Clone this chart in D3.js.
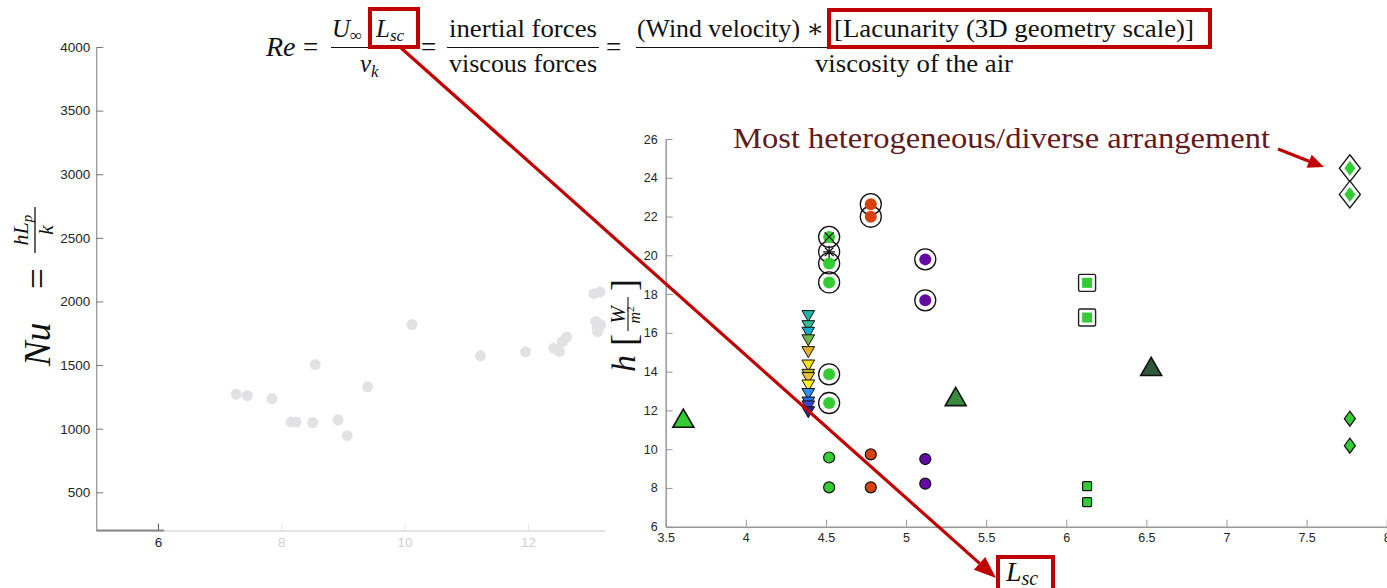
<!DOCTYPE html>
<meta charset="utf-8">
<style>
body { margin: 0; background: #fff; }
svg text { font-family: "Liberation Sans", Arial, sans-serif; }
.serif text, text.serif { font-family: "Liberation Serif", "DejaVu Serif", serif; fill: #111; }
</style>
<svg width="1387" height="588"></svg>
<script src="https://cdn.jsdelivr.net/npm/d3@7"></script>
<script>

// ---- left panel (faded): Nu vs Lsc
var nuLsc = [7.27, 7.45, 7.85, 8.16, 8.24, 8.51, 8.55, 8.92, 9.07, 9.40, 10.12, 11.23, 11.96,
             12.42, 12.51, 12.56, 12.63, 13.07, 13.17, 13.10, 13.12, 13.13, 13.18];
var nuVal = [1271, 1260, 1237, 1053, 1053, 1048, 1504, 1069, 945, 1329, 1819, 1573, 1604,
             1633, 1607, 1685, 1720, 2061, 2074, 1843, 1791, 1764, 1817];
var nuTicksX = [6, 8, 10, 12];
var nuTicksY = [500, 1000, 1500, 2000, 2500, 3000, 3500, 4000];

// ---- right panel: h vs Lsc
var hTicksX = [3.5, 4, 4.5, 5, 5.5, 6, 6.5, 7, 7.5, 8];
var hTicksY = [6, 8, 10, 12, 14, 16, 18, 20, 22, 24, 26];

// down triangles (one column)
var triLsc = 4.39;
var triH = [16.96, 16.44, 16.10, 15.71, 15.10, 14.41, 13.93, 13.76, 13.38, 12.94, 12.50, 12.30, 12.00];
var triColors = ["#22b3a6", "#2fbf96", "#15a8c8", "#6db84a", "#e6b22a", "#f6df1c", "#bdb421",
                 "#f0be3a", "#ffee12", "#2e8ff0", "#2a6de0", "#3a46d6", "#2a2a96"];

// circles
var circLsc = [4.52, 4.78, 5.12];
var circColors = ["#33cc33", "#d8420f", "#660aa6"];
var circRinged = [[20.95, 19.58, 18.60, 13.86, 12.38], [22.64, 21.99], [19.79, 17.68]];
var circPlain = [[9.57, 8.03], [9.73, 8.03], [9.49, 8.22]];
var starH = [20.18];
var crossH = [20.95];

// up triangles
var upLsc = [3.61, 5.31, 6.53];
var upH = [11.49, 12.61, 14.16];
var upColors = ["#33cc33", "#3a8a3e", "#2f5a38"];

// squares
var sqLsc = 6.13;
var sqRinged = [18.58, 16.79];
var sqPlain = [8.09, 7.27];

// diamonds
var dmLsc = 7.77;
var dmRinged = [24.49, 23.14];
var dmPlain = [11.57, 10.18];

var svg = d3.select("svg");
var red = "#c00000";

svg.append("defs").append("clipPath").attr("id", "leftclip")
  .append("rect").attr("x", 0).attr("y", 0).attr("width", 606).attr("height", 588);

// ================= left panel
var xL = d3.scaleLinear().domain([5, 13.25]).range([96.3, 605]);
var yL = d3.scaleLinear().domain([200, 4000]).range([530.5, 47]);

var left = svg.append("g").attr("clip-path", "url(#leftclip)");

var gLy = left.append("g").attr("transform", "translate(96.3,0)")
  .call(d3.axisLeft(yL).tickValues(nuTicksY).tickFormat(d3.format("d"))
    .tickSizeInner(-7).tickSizeOuter(0).tickPadding(6));
gLy.select(".domain").attr("stroke", "#777");
gLy.selectAll(".tick line").attr("stroke", "#777");
gLy.selectAll(".tick text").style("font-size", "13.5px").style("fill", "#262626");

var gLx = left.append("g").attr("transform", "translate(0,530.5)")
  .call(d3.axisBottom(xL).tickValues(nuTicksX).tickSizeInner(-7).tickSizeOuter(0).tickPadding(7));
gLx.select(".domain").attr("stroke", "#e3e3e3").attr("stroke-width", 2);
gLx.selectAll(".tick line").attr("stroke", function(d) { return d == 6 ? "#555" : "#e3e3e3"; });
gLx.selectAll(".tick text").style("font-size", "13.5px")
  .style("fill", function(d) { return d == 6 ? "#262626" : "#d0d0d0"; });
left.append("line").attr("x1", xL(5)).attr("x2", xL(6.1)).attr("y1", 530.5).attr("y2", 530.5)
  .attr("stroke", "#888").attr("stroke-width", 2);

left.append("g").selectAll("circle").data(nuLsc).enter().append("circle")
  .attr("cx", function(d) { return xL(d); })
  .attr("cy", function(d, i) { return yL(nuVal[i]); })
  .attr("r", 5.5).attr("fill", "#e2e2e5");

// Nu label (rotated)
var nu = svg.append("g").attr("transform", "translate(38,300) rotate(-90)").attr("class", "serif");
nu.append("text").attr("x", -66).attr("y", 12).style("font-size", "37px").style("font-style", "italic").text("Nu");
nu.append("text").attr("x", 11).attr("y", 12).style("font-size", "37px").text("=");
var numer = nu.append("text").attr("x", 70).attr("y", -10).attr("text-anchor", "middle").style("font-size", "22px").style("font-style", "italic");
numer.append("tspan").text("hL");
numer.append("tspan").attr("dy", 4).style("font-size", "15px").text("p");
nu.append("line").attr("x1", 47).attr("x2", 93).attr("y1", -3).attr("y2", -3).attr("stroke", "#111").attr("stroke-width", 1.3);
nu.append("text").attr("x", 70).attr("y", 15).attr("text-anchor", "middle").style("font-size", "22px").style("font-style", "italic").text("k");

// ================= right panel
var x = d3.scaleLinear().domain([3.5, 8]).range([665.7, 1386.7]);
var y = d3.scaleLinear().domain([6, 26]).range([526.7, 139]);

var gy = svg.append("g").attr("transform", "translate(665.7,0)")
  .call(d3.axisLeft(y).tickValues(hTicksY).tickSizeInner(-7).tickSizeOuter(0).tickPadding(8));
var gx = svg.append("g").attr("transform", "translate(0,526.7)")
  .call(d3.axisBottom(x).tickValues(hTicksX).tickFormat(d3.format("")).tickSizeInner(-7).tickSizeOuter(0).tickPadding(6));
gy.select(".domain").attr("stroke", "#999").attr("stroke-width", 1.5);
gx.select(".domain").attr("stroke", "#999").attr("stroke-width", 1.5);
gx.selectAll(".tick line").attr("stroke", "#999");
gy.selectAll(".tick line").attr("stroke", "#999");
gx.selectAll(".tick text").style("font-size", "12.5px").style("fill", "#262626");
gy.selectAll(".tick text").style("font-size", "12.5px").style("fill", "#262626");

// h label (rotated)
var hl = svg.append("g").attr("transform", "translate(625,322) rotate(-90)").attr("class", "serif");
hl.append("text").attr("x", -50).attr("y", 10).style("font-size", "34px").style("font-style", "italic").text("h");
hl.append("text").attr("x", -24).attr("y", 11).style("font-size", "36px").text("[");
hl.append("text").attr("x", 31).attr("y", 11).style("font-size", "36px").text("]");
hl.append("text").attr("x", 7).attr("y", 0).attr("text-anchor", "middle").style("font-size", "21px").style("font-style", "italic").text("W");
hl.append("line").attr("x1", -9).attr("x2", 25).attr("y1", 3).attr("y2", 3).attr("stroke", "#111").attr("stroke-width", 1.1);
var m2 = hl.append("text").attr("x", 7).attr("y", 15).attr("text-anchor", "middle").style("font-size", "16px").style("font-style", "italic");
m2.append("tspan").text("m");
m2.append("tspan").attr("dy", -6).style("font-size", "11px").style("font-style", "normal").text("2");

var marks = svg.append("g");

// down triangles
marks.selectAll("path.tri").data(triH).enter().append("path").attr("class", "tri")
  .attr("d", d3.symbol().type(d3.symbolTriangle).size(70))
  .attr("transform", function(d) { return "translate(" + x(triLsc) + "," + y(d) + ") rotate(180)"; })
  .attr("fill", function(d, i) { return triColors[i]; })
  .attr("stroke", "#111").attr("stroke-width", 1);

// ringed circles
circLsc.forEach(function(lsc, k) {
  var g = marks.append("g");
  var rings = circRinged[k].slice();
  if (k === 0) rings = rings.concat(starH);
  g.selectAll("circle.ring").data(rings).enter().append("circle").attr("class", "ring")
    .attr("cx", x(lsc)).attr("cy", function(d) { return y(d); }).attr("r", 10.5)
    .attr("fill", "none").attr("stroke", "#111").attr("stroke-width", 1.3);
  g.selectAll("circle.fillc").data(circRinged[k]).enter().append("circle").attr("class", "fillc")
    .attr("cx", x(lsc)).attr("cy", function(d) { return y(d); }).attr("r", 6)
    .attr("fill", circColors[k]);
  g.selectAll("circle.plain").data(circPlain[k]).enter().append("circle").attr("class", "plain")
    .attr("cx", x(lsc)).attr("cy", function(d) { return y(d); }).attr("r", 5.5)
    .attr("fill", circColors[k]).attr("stroke", "#111").attr("stroke-width", 1.2);
});

// asterisk and cross on the green column
marks.selectAll("path.star").data(starH).enter().append("path").attr("class", "star")
  .attr("d", "M-6,0H6M0,-6V6M-4.3,-4.3L4.3,4.3M-4.3,4.3L4.3,-4.3")
  .attr("transform", function(d) { return "translate(" + x(circLsc[0]) + "," + y(d) + ")"; })
  .attr("stroke", "#111").attr("stroke-width", 1.3);
marks.selectAll("path.cross").data(crossH).enter().append("path").attr("class", "cross")
  .attr("d", "M-4.5,-4.5L4.5,4.5M-4.5,4.5L4.5,-4.5")
  .attr("transform", function(d) { return "translate(" + x(circLsc[0]) + "," + y(d) + ")"; })
  .attr("stroke", "#111").attr("stroke-width", 1.3);

// up triangles
marks.selectAll("path.up").data(upLsc).enter().append("path").attr("class", "up")
  .attr("d", d3.symbol().type(d3.symbolTriangle).size(190))
  .attr("transform", function(d, i) { return "translate(" + x(d) + "," + (y(upH[i]) + 1) + ")"; })
  .attr("fill", function(d, i) { return upColors[i]; })
  .attr("stroke", "#111").attr("stroke-width", 1.6);

// squares
marks.selectAll("rect.sqring").data(sqRinged).enter().append("rect").attr("class", "sqring")
  .attr("x", x(sqLsc) - 8.5).attr("y", function(d) { return y(d) - 8.5; })
  .attr("width", 17).attr("height", 17).attr("rx", 1.5)
  .attr("fill", "#fff").attr("stroke", "#222").attr("stroke-width", 1.4);
marks.selectAll("rect.sqin").data(sqRinged).enter().append("rect").attr("class", "sqin")
  .attr("x", x(sqLsc) - 5).attr("y", function(d) { return y(d) - 5; })
  .attr("width", 10).attr("height", 10).attr("fill", "#33cc33");
marks.selectAll("rect.sqp").data(sqPlain).enter().append("rect").attr("class", "sqp")
  .attr("x", x(sqLsc) - 4.5).attr("y", function(d) { return y(d) - 4.5; })
  .attr("width", 9).attr("height", 9).attr("rx", 1)
  .attr("fill", "#33cc33").attr("stroke", "#111").attr("stroke-width", 1.2);

// diamonds
function diamond(w, h) {
  var p = d3.path();
  p.moveTo(0, -h / 2); p.lineTo(w / 2, 0); p.lineTo(0, h / 2); p.lineTo(-w / 2, 0); p.closePath();
  return p.toString();
}
marks.selectAll("path.dmring").data(dmRinged).enter().append("path").attr("class", "dmring")
  .attr("d", diamond(21, 27))
  .attr("transform", function(d) { return "translate(" + x(dmLsc) + "," + y(d) + ")"; })
  .attr("fill", "#fff").attr("stroke", "#111").attr("stroke-width", 1.3);
marks.selectAll("path.dmin").data(dmRinged).enter().append("path").attr("class", "dmin")
  .attr("d", diamond(11, 15))
  .attr("transform", function(d) { return "translate(" + x(dmLsc) + "," + y(d) + ")"; })
  .attr("fill", "#33cc33");
marks.selectAll("path.dmp").data(dmPlain).enter().append("path").attr("class", "dmp")
  .attr("d", diamond(11, 15))
  .attr("transform", function(d) { return "translate(" + x(dmLsc) + "," + y(d) + ")"; })
  .attr("fill", "#33cc33").attr("stroke", "#111").attr("stroke-width", 1.2);

// ================= formula on top
var f = svg.append("g").attr("class", "serif").style("font-size", "25px");
f.append("text").attr("x", 266).attr("y", 56).style("font-style", "italic").style("font-size", "28px").text("Re");
f.append("text").attr("x", 303).attr("y", 56).style("font-size", "27px").text("=");

var n1 = f.append("text").attr("x", 332).attr("y", 37).style("font-style", "italic");
n1.append("tspan").text("U");
n1.append("tspan").attr("dy", 4).style("font-size", "17px").style("font-style", "normal").text("\u221e");
n1.append("tspan").attr("x", 376).attr("dy", -4).text("L");
n1.append("tspan").attr("dy", 4).style("font-size", "17px").text("sc");
f.append("line").attr("x1", 331).attr("x2", 419).attr("y1", 47.5).attr("y2", 47.5).attr("stroke", "#111").attr("stroke-width", 1.2);
var d1 = f.append("text").attr("x", 360).attr("y", 72).style("font-style", "italic");
d1.append("tspan").text("\u03bd");
d1.append("tspan").attr("dy", 5).style("font-size", "17px").text("k");
f.append("text").attr("x", 421).attr("y", 56).style("font-size", "27px").text("=");

f.append("text").attr("x", 449).attr("y", 37).attr("textLength", 148).attr("lengthAdjust", "spacingAndGlyphs").text("inertial forces");
f.append("line").attr("x1", 447).attr("x2", 599).attr("y1", 47.5).attr("y2", 47.5).attr("stroke", "#111").attr("stroke-width", 1.2);
f.append("text").attr("x", 449).attr("y", 72).attr("textLength", 148).attr("lengthAdjust", "spacingAndGlyphs").text("viscous forces");
f.append("text").attr("x", 606).attr("y", 56).style("font-size", "27px").text("=");

f.append("text").attr("x", 637).attr("y", 37).attr("textLength", 187).attr("lengthAdjust", "spacingAndGlyphs").text("(Wind velocity) \u2217");
f.append("text").attr("x", 834).attr("y", 37).attr("textLength", 360).attr("lengthAdjust", "spacingAndGlyphs").text("[Lacunarity (3D geometry scale)]");
f.append("line").attr("x1", 636).attr("x2", 1210).attr("y1", 47.5).attr("y2", 47.5).attr("stroke", "#111").attr("stroke-width", 1.2);
f.append("text").attr("x", 815).attr("y", 72).attr("textLength", 198).attr("lengthAdjust", "spacingAndGlyphs").text("viscosity of the air");

// ================= red annotations
var ann = svg.append("g");
ann.append("rect").attr("x", 370).attr("y", 9).attr("width", 48).attr("height", 38)
  .attr("fill", "none").attr("stroke", red).attr("stroke-width", 4);
ann.append("rect").attr("x", 829).attr("y", 10).attr("width", 381).attr("height", 37)
  .attr("fill", "none").attr("stroke", red).attr("stroke-width", 4);

function arrow(x1, y1, x2, y2, w, headL, headW) {
  var a = Math.atan2(y2 - y1, x2 - x1);
  var bx = x2 - headL * Math.cos(a), by = y2 - headL * Math.sin(a);
  ann.append("line").attr("x1", x1).attr("y1", y1).attr("x2", bx).attr("y2", by)
    .attr("stroke", red).attr("stroke-width", w);
  var px = -Math.sin(a) * headW / 2, py = Math.cos(a) * headW / 2;
  ann.append("path").attr("d", "M" + x2 + "," + y2 + "L" + (bx + px) + "," + (by + py) + "L" + (bx - px) + "," + (by - py) + "Z")
    .attr("fill", red);
}
arrow(400, 47, 996, 578, 3.2, 22, 17);
arrow(1278, 149, 1324, 167, 3.2, 16, 14);

ann.append("rect").attr("x", 998).attr("y", 557).attr("width", 55).attr("height", 40)
  .attr("fill", "#fff").attr("stroke", red).attr("stroke-width", 4);
var ls = ann.append("text").attr("class", "serif").attr("x", 1006).attr("y", 581).style("font-size", "28px").style("font-style", "italic");
ls.append("tspan").text("L");
ls.append("tspan").attr("dy", 4).style("font-size", "20px").text("sc");

svg.append("text").attr("class", "serif").attr("x", 733).attr("y", 148)
  .attr("textLength", 537).attr("lengthAdjust", "spacingAndGlyphs")
  .style("font-size", "30px").style("fill", "#621a1c")
  .text("Most heterogeneous/diverse arrangement");

</script>
